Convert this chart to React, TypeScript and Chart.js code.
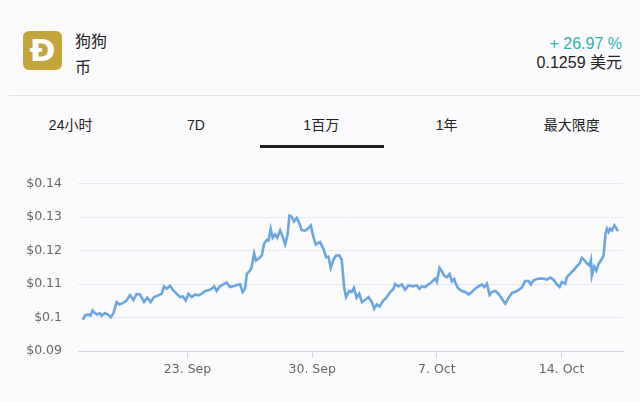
import React, { useEffect, useRef } from "react";
import { Chart, registerables } from "chart.js";

Chart.register(...registerables);

// day positions: 23 = 23 Sep, 30 = 30 Sep, 37 = 7 Oct, 44 = 14 Oct
const days: number[] = [
  17.13, 17.24, 17.43, 17.55, 17.67, 17.8, 17.93, 18.08, 18.17, 18.36, 18.55, 18.69, 18.84, 19.02, 19.17, 19.36, 19.55, 19.77, 19.96, 20.14, 20.33, 20.56, 20.74, 20.93, 21.12, 21.36, 21.55, 21.68, 21.83, 22.02, 22.2, 22.39, 22.58, 22.73, 22.9, 23.05, 23.24, 23.43, 23.61, 23.8, 23.99, 24.18, 24.36, 24.5, 24.63, 24.82, 25.01, 25.2, 25.38, 25.57, 25.76, 25.95, 26.1, 26.23, 26.33, 26.51, 26.6, 26.74, 26.85, 26.98, 27.17, 27.3, 27.45, 27.55, 27.67, 27.78, 27.91, 28.04, 28.2, 28.35, 28.48, 28.61, 28.72, 28.85, 28.98, 29.13, 29.28, 29.41, 29.6, 29.73, 29.92, 30.07, 30.2, 30.33,
  30.44, 30.63, 30.78, 30.91, 31.04, 31.19, 31.34, 31.53, 31.66, 31.79, 31.9, 32.08, 32.21, 32.34, 32.49, 32.64, 32.79, 32.98, 33.16, 33.35, 33.48, 33.63, 33.78, 33.97, 34.16, 34.38, 34.57, 34.65, 34.84, 35.03, 35.21, 35.4, 35.64, 35.87, 36.02, 36.15, 36.34, 36.53, 36.71, 36.9, 37.0, 37.15, 37.28, 37.41, 37.56, 37.71, 37.84, 37.97, 38.08, 38.21, 38.4, 38.59, 38.78, 38.96, 39.15, 39.34, 39.53, 39.66, 39.81, 39.96, 40.09, 40.28, 40.46, 40.65, 40.84, 41.03, 41.21, 41.49, 41.77, 41.96, 42.15, 42.28, 42.43, 42.71, 42.99, 43.18, 43.36, 43.55, 43.74, 43.89, 44.02, 44.21, 44.3, 44.49, 44.67, 44.86, 45.01, 45.14, 45.27, 45.42, 45.57, 45.65, 45.7, 45.83, 45.95, 46.08, 46.21, 46.36, 46.47, 46.55, 46.64, 46.73, 46.83, 46.97, 47.17,
];

const prices: number[] = [
  0.0993, 0.1006, 0.1009, 0.1006, 0.1021, 0.1013, 0.1009, 0.1013, 0.1005, 0.1013, 0.1008, 0.1001, 0.1013, 0.1046, 0.1039, 0.1043, 0.1049, 0.1067, 0.1052, 0.1070, 0.1069, 0.1046, 0.1059, 0.1046, 0.1061, 0.1066, 0.1071, 0.1093, 0.1086, 0.1095, 0.1081, 0.1071, 0.1061, 0.1063, 0.1051, 0.1071, 0.1061, 0.1069, 0.1066, 0.1071, 0.1079, 0.1081, 0.1086, 0.1093, 0.1079, 0.1093, 0.1099, 0.1104, 0.1091, 0.1093, 0.1097, 0.1099, 0.1076, 0.1086, 0.1130, 0.1140, 0.1150, 0.1192, 0.1170, 0.1175, 0.1185, 0.1220, 0.1232, 0.1230, 0.1265, 0.1238, 0.1248, 0.1238, 0.1260, 0.1240, 0.1218, 0.1245, 0.1304, 0.1301, 0.1287, 0.1297, 0.1281, 0.1261, 0.1259, 0.1264, 0.1275, 0.1240, 0.1218, 0.1222,
  0.1225, 0.1205, 0.1180, 0.1182, 0.1148, 0.1172, 0.1185, 0.1185, 0.1172, 0.1091, 0.1061, 0.1079, 0.1076, 0.1089, 0.1059, 0.1071, 0.1046, 0.1053, 0.1061, 0.1046, 0.1026, 0.1039, 0.1033, 0.1049, 0.1059, 0.1076, 0.1086, 0.1100, 0.1093, 0.1099, 0.1083, 0.1096, 0.1093, 0.1096, 0.1086, 0.1093, 0.1091, 0.1099, 0.1106, 0.1116, 0.1106, 0.1148, 0.1138, 0.1125, 0.1120, 0.1130, 0.1108, 0.1115, 0.1098, 0.1086, 0.1079, 0.1076, 0.1069, 0.1076, 0.1086, 0.1093, 0.1099, 0.1091, 0.1101, 0.1067, 0.1076, 0.1079, 0.1071, 0.1056, 0.1041, 0.1059, 0.1073, 0.1079, 0.1089, 0.1109, 0.1109, 0.1099, 0.1111, 0.1116, 0.1116, 0.1113, 0.1119, 0.1113, 0.1099, 0.1091, 0.1106, 0.1101, 0.1121, 0.1131, 0.1141, 0.1153, 0.1161, 0.1178, 0.1172, 0.1162, 0.1155, 0.1171, 0.1125, 0.1152, 0.1140, 0.1160, 0.1170, 0.1185, 0.1250, 0.1265, 0.1255, 0.1265, 0.1260, 0.1275, 0.1258,
];

const xTicks: number[] = [23, 30, 37, 44];
const xTickLabels: string[] = ["23. Sep", "30. Sep", "7. Oct", "14. Oct"];
const yTicks: number[] = [0.09, 0.1, 0.11, 0.12, 0.13, 0.14];
const yTickLabels: string[] = ["$0.09", "$0.1", "$0.11", "$0.12", "$0.13", "$0.14"];
const tabs: string[] = ["24小时", "7D", "1百万", "1年", "最大限度"];

const CJK = '"Noto Sans CJK SC", "Noto Sans", sans-serif';
const AXIS_FONT = '"DejaVu Sans", sans-serif';

function PriceChart() {
  const ref = useRef<HTMLCanvasElement | null>(null);
  useEffect(() => {
    if (!ref.current) return;
    const chart = new Chart(ref.current, {
      type: "line",
      data: {
        datasets: [
          {
            data: days.map((d, i) => ({ x: d, y: prices[i] })),
            borderColor: "#6aa6e2",
            borderWidth: 2.6,
            pointRadius: 0,
            tension: 0,
            fill: false,
          },
        ],
      },
      options: {
        animation: false,
        responsive: false,
        maintainAspectRatio: false,
        layout: { padding: { top: 23, right: 17, bottom: 0, left: 0 } },
        plugins: { legend: { display: false }, tooltip: { enabled: false } },
        scales: {
          x: {
            type: "linear",
            min: 16.85,
            max: 47.45,
            afterBuildTicks: (scale: any) => {
              scale.ticks = xTicks.map((v) => ({ value: v }));
            },
            afterFit: (scale: any) => {
              scale.height = 51;
            },
            ticks: {
              autoSkip: false,
              maxRotation: 0,
              padding: 4,
              color: "#666",
              font: { family: AXIS_FONT, size: 12.5 },
              callback: (v: any) => {
                const i = xTicks.indexOf(Number(v));
                return i >= 0 ? xTickLabels[i] : "";
              },
            },
            grid: {
              display: true,
              drawOnChartArea: false,
              drawTicks: true,
              tickLength: 7,
              color: "#ccd6eb",
              lineWidth: 1,
            },
            border: { display: true, color: "#ccd6eb", width: 1 },
          },
          y: {
            type: "linear",
            min: 0.09,
            max: 0.14,
            afterBuildTicks: (scale: any) => {
              scale.ticks = yTicks.map((v) => ({ value: v }));
            },
            afterFit: (scale: any) => {
              scale.width = 78;
            },
            ticks: {
              padding: 16,
              color: "#666",
              font: { family: AXIS_FONT, size: 12.5 },
              callback: (v: any) => {
                const i = yTicks.findIndex((t) => Math.abs(t - Number(v)) < 1e-6);
                return i >= 0 ? yTickLabels[i] : "";
              },
            },
            grid: {
              color: (ctx: any) => (ctx.index === 0 ? "rgba(0,0,0,0)" : "#e6e9ef"),
              drawTicks: false,
              lineWidth: 1,
            },
            border: { display: false },
          },
        },
      },
    });
    return () => chart.destroy();
  }, []);
  return (
    <canvas
      ref={ref}
      width={640}
      height={242}
      style={{ position: "absolute", left: 0, top: 160, width: 640, height: 242 }}
    />
  );
}

export default function App() {
  return (
    <div
      style={{
        position: "fixed",
        left: 0,
        top: 0,
        width: 640,
        height: 402,
        background: "#fbfbfd",
        overflow: "hidden",
        fontFamily: CJK,
      }}
    >
      {/* logo */}
      <div
        style={{
          position: "absolute",
          left: 23,
          top: 31,
          width: 39,
          height: 39,
          borderRadius: 6,
          background: "#c3a53c",
          color: "#fff",
          fontFamily: '"DejaVu Sans", sans-serif',
          fontWeight: 700,
          fontSize: 31,
          lineHeight: "39px",
          textAlign: "center",
        }}
      >
        Ð
      </div>
      <div style={{ position: "absolute", left: 75, top: 27, fontSize: 16, lineHeight: "26px", color: "#222" }}>
        狗狗
        <br />币
      </div>
      <div
        style={{
          position: "absolute",
          right: 18,
          top: 34,
          textAlign: "right",
          fontFamily: '"Liberation Sans", ' + CJK,
          fontSize: 16,
          lineHeight: "19px",
        }}
      >
        <div style={{ color: "#2bb3ad" }}>+ 26.97 %</div>
        <div style={{ color: "#222" }}>0.1259 美元</div>
      </div>
      <div style={{ position: "absolute", left: 9, right: 0, top: 95, height: 1, background: "#e2e2e4" }} />
      {tabs.map((t, i) => (
        <div
          key={t}
          style={{
            position: "absolute",
            left: 8 + i * 125.3,
            width: 125.3,
            top: 115,
            textAlign: "center",
            fontSize: 14,
            lineHeight: "20px",
            color: "#222",
            fontFamily: '"Liberation Sans", ' + CJK,
          }}
        >
          {t}
        </div>
      ))}
      <div style={{ position: "absolute", left: 260, width: 124, top: 145, height: 3, background: "#1f1f1f" }} />
      <PriceChart />
    </div>
  );
}
